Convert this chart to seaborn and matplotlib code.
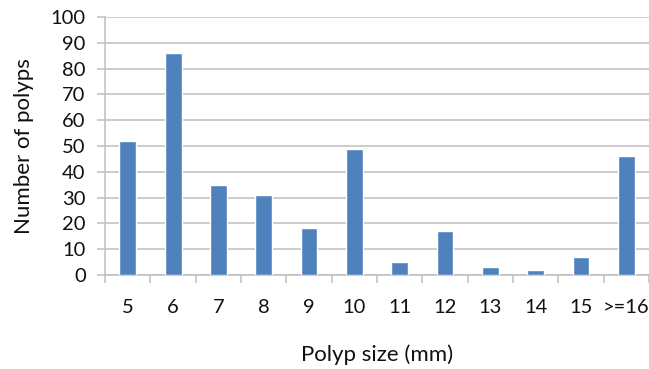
import matplotlib
matplotlib.use("Agg")
import matplotlib.pyplot as plt
import seaborn as sns
import pandas as pd
import numpy as np

categories = ["5", "6", "7", "8", "9", "10", "11", "12", "13", "14", "15", ">=16"]
counts = [52, 86, 35, 31, 18, 49, 5, 17, 3, 2, 7, 46]
y_ticks = [0, 10, 20, 30, 40, 50, 60, 70, 80, 90, 100]

sns.set_theme(style="white")
plt.rcParams['font.family'] = ['Lato', 'DejaVu Sans']

df = pd.DataFrame({"size": categories, "count": counts})

fig = plt.figure(figsize=(6.49, 3.69), dpi=100)
ax = fig.add_axes([0.162, 0.255, 0.838, 0.699])

sns.barplot(data=df, x="size", y="count", color="#4f81bd", width=0.37,
            saturation=1, ax=ax, zorder=3)

ax.set_ylim(0, 100)
ax.set_xlim(-0.5, len(categories) - 0.5)
ax.set_yticks(y_ticks)
ax.yaxis.grid(True, color="#bfbfbf", linewidth=1.1, zorder=0)
ax.set_axisbelow(True)

for s in ["top", "right"]:
    ax.spines[s].set_visible(False)
for s in ["left", "bottom"]:
    ax.spines[s].set_color("#bfbfbf")
    ax.spines[s].set_linewidth(1.1)

ax.tick_params(axis="y", which="major", length=6, width=1.1, color="#bfbfbf",
               labelsize=14.5, pad=8, left=True, labelcolor="#111111")
ax.tick_params(axis="x", which="major", length=0, labelsize=14.5, pad=17,
               labelcolor="#111111")
ax.set_xticks(np.arange(-0.5, len(categories), 1), minor=True)
ax.tick_params(axis="x", which="minor", length=6, width=1.1, color="#bfbfbf",
               bottom=True)

ax.set_xlabel("Polyp size (mm)", fontsize=16, labelpad=21, color="#111111")
ax.set_ylabel("Number of polyps", fontsize=16, labelpad=12, color="#111111")

fig.savefig("out.png", dpi=100)
